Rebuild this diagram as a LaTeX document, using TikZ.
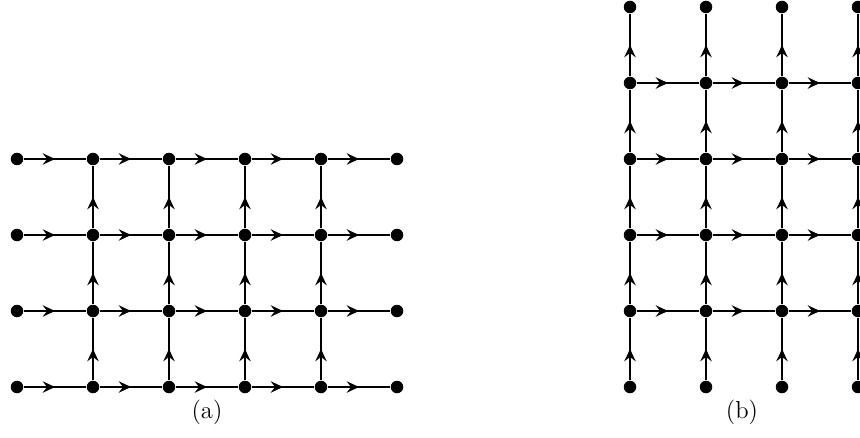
\documentclass[tikz,border=0pt]{standalone}
\usetikzlibrary{positioning, calc, decorations.markings, arrows.meta}
\newcommand{\CapF}{\fontsize{14}{17}\selectfont}
\tikzset{
  dot/.style={circle, fill=black, inner sep=0pt, minimum size=0.25cm},
  flow/.style={line width=1.1pt, postaction={decorate},
    decoration={markings, mark=at position 0.5 with
      {\arrow{Stealth[length=7pt, width=6.5pt, inset=2.5pt]}}}},
}

\begin{document}
\begin{tikzpicture}
\useasboundingbox (0,0) rectangle (17.2,8.74);
% grid (a): horizontal everywhere, vertical on inner columns
\begin{scope}[shift={(0.34,1.0)}, x=1.52cm, y=1.52cm]
\foreach \i in {0,...,5}
  \foreach \j in {0,...,3}
    \node[dot] (a-\i-\j) at (\i,\j) {};
\foreach \i [count=\k] in {0,...,4}
  \foreach \j in {0,...,3}
    \draw[flow] (a-\i-\j) -- (a-\k-\j);
\foreach \i in {1,...,4}
  \foreach \j [count=\k] in {0,...,2}
    \draw[flow] (a-\i-\j) -- (a-\i-\k);
\end{scope}
% grid (b): vertical everywhere, horizontal on inner rows
\begin{scope}[shift={(12.6,1.0)}, x=1.52cm, y=1.52cm]
\foreach \i in {0,...,3}
  \foreach \j in {0,...,5}
    \node[dot] (b-\i-\j) at (\i,\j) {};
\foreach \i in {0,...,3}
  \foreach \j [count=\k] in {0,...,4}
    \draw[flow] (b-\i-\j) -- (b-\i-\k);
\foreach \i [count=\k] in {0,...,2}
  \foreach \j in {1,...,4}
    \draw[flow] (b-\i-\j) -- (b-\k-\j);
\end{scope}
\node[font=\CapF] (capa) at (4.14,0.5) {(a)};
\node[font=\CapF] (capb) at (14.84,0.5) {(b)};
\end{tikzpicture}
\end{document}
